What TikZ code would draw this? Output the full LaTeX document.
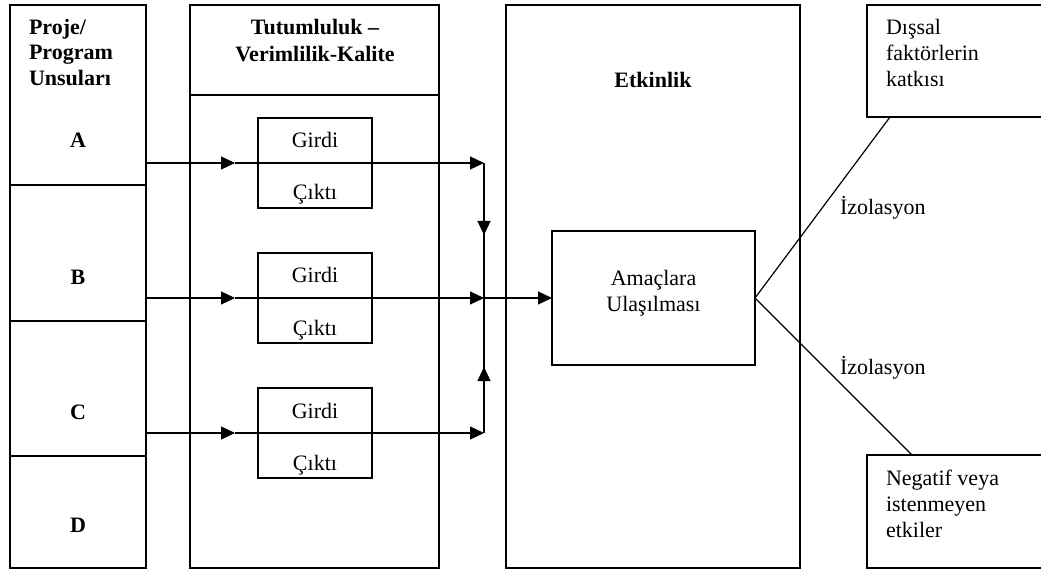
\documentclass[tikz,border=0pt]{standalone}
\usepackage{fontspec}
\setmainfont{Liberation Serif}
\usetikzlibrary{arrows.meta}
\begin{document}
\begin{tikzpicture}[x=1pt,y=-1pt,
  box/.style={draw,line width=1.2pt,inner sep=0pt,outer sep=0pt,anchor=north west},
  txt/.style={inner sep=0pt,outer sep=0pt,font=\fontsize{22}{26}\selectfont},
  bold/.style={txt,font=\fontsize{22}{26}\selectfont\bfseries},
  flow/.style={line width=1.2pt,-{Triangle[length=14pt,width=13pt]}},
  link/.style={line width=1.2pt}]
\useasboundingbox (0,0) rectangle (1041,569);

% left column: programme components
\node[box,minimum width=136pt,minimum height=180pt] (cellA) at (10,5) {};
\node[box,minimum width=136pt,minimum height=136pt] (cellB) at (10,185) {};
\node[box,minimum width=136pt,minimum height=135pt] (cellC) at (10,321) {};
\node[box,minimum width=136pt,minimum height=112pt] (cellD) at (10,456) {};
\node[bold,anchor=base west] (h1a) at (29,35) {Proje/};
\node[bold,anchor=base west] (h1b) at (29,60) {Program};
\node[bold,anchor=base west] (h1c) at (29,86) {Unsuları};
\node[bold,anchor=base] (lA) at (78,148) {A};
\node[bold,anchor=base] (lB) at (78,284) {B};
\node[bold,anchor=base] (lC) at (78,419) {C};
\node[bold,anchor=base] (lD) at (78,532) {D};

% middle column: economy - efficiency - quality
\node[box,minimum width=249pt,minimum height=90pt] (midhead) at (190,5) {};
\node[box,minimum width=249pt,minimum height=473pt] (midbody) at (190,95) {};
\node[bold,anchor=base] (h2a) at (315,35) {Tutumluluk –};
\node[bold,anchor=base] (h2b) at (315,62) {Verimlilik-Kalite};

% input / output boxes
\foreach \r/\t in {A/118,B/253,C/388}{
  \node[box,minimum width=114pt,minimum height=90pt] (io\r) at (258,\t) {};
  \node[txt,anchor=base] (in\r) at (315,\t+30) {Girdi};
  \node[txt,anchor=base] (out\r) at (315,\t+82) {Çıktı};
}

% effectiveness column
\node[box,minimum width=294pt,minimum height=563pt] (etk) at (506,5) {};
\node[bold,anchor=base] (h3) at (653,88) {Etkinlik};
\node[box,minimum width=203pt,minimum height=134pt] (amac) at (552,231) {};
\node[txt,anchor=base] (am1) at (653.5,286) {Amaçlara};
\node[txt,anchor=base] (am2) at (653.5,312) {Ulaşılması};

% outside effects (boxes run past the right edge of the page)
\node[box,minimum width=185pt,minimum height=112pt] (dis) at (867,5) {};
\node[txt,anchor=base west] (d1) at (886,35) {Dışsal};
\node[txt,anchor=base west] (d2) at (886,61) {faktörlerin};
\node[txt,anchor=base west] (d3) at (886,87) {katkısı};
\node[box,minimum width=185pt,minimum height=113pt] (neg) at (867,455) {};
\node[txt,anchor=base west] (n1) at (886,485) {Negatif veya};
\node[txt,anchor=base west] (n2) at (886,511) {istenmeyen};
\node[txt,anchor=base west] (n3) at (886,537) {etkiler};
\node[txt,anchor=base west] (iz1) at (840,215) {İzolasyon};
\node[txt,anchor=base west] (iz2) at (840,374) {İzolasyon};

% connector points
\coordinate (sA) at (146,163);
\coordinate (sB) at (146,298);
\coordinate (sC) at (146,433);
\coordinate (mA) at (235,163);
\coordinate (mB) at (235,298);
\coordinate (mC) at (235,433);
\coordinate (jA) at (484,163);
\coordinate (jB) at (484,298);
\coordinate (jC) at (484,433);
\coordinate (dA) at (484,235);
\coordinate (uC) at (484,367);
\coordinate (dTop) at (890,117);
\coordinate (nTop) at (912,455);

% flows
\foreach \r in {A,B,C}{
  \draw[flow] (s\r) -- (m\r);
  \draw[flow] (m\r) -- (j\r);
}
\draw[link] (jA) -- (jC);
\draw[flow] (jA) -- (dA);
\draw[flow] (jC) -- (uC);
\draw[flow] (jB) -- (amac.west |- jB);
\draw[link] (amac.east) -- (dTop);
\draw[link] (amac.east) -- (nTop);
\end{tikzpicture}
\end{document}
